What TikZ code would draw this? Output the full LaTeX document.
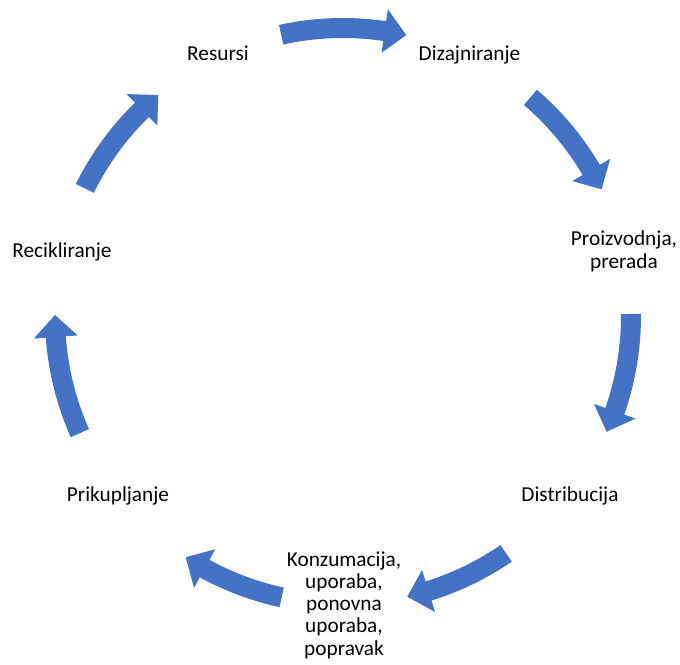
\documentclass[tikz,border=0pt]{standalone}
\usepackage{fontspec}
\setmainfont{Carlito}
\definecolor{arrowblue}{HTML}{4472C4}
\tikzset{
  cyclearrow/.style={fill=arrowblue},
  steplabel/.style={font=\fontsize{21.3}{22.2}\selectfont, inner sep=0pt, align=center, anchor=base}
}
% tail angle, tip angle (clockwise)
\newcommand\mycyclearrow[2]{%
  \pgfmathsetmacro\myah{#2+4.38}%
  \fill[cyclearrow] (#1:298pt) arc[start angle=#1, end angle=\myah, radius=298pt]
    -- (\myah:310pt) -- (#2:288pt) -- (\myah:266pt) -- (\myah:278pt)
    arc[start angle=\myah, end angle=#1, radius=278pt] -- cycle;}
\begin{document}
\begin{tikzpicture}[x=1pt,y=1pt]
\useasboundingbox (-343,-348) rectangle (337,316);
\node[steplabel] (res) at (-125,255) {Resursi};
\node[steplabel] (diz) at (126.5,255) {Dizajniranje};
\node[steplabel] (pro) at (281,48) {Proizvodnja,\\prerada};
\node[steplabel] (dis) at (227,-185) {Distribucija};
\node[steplabel] (kon) at (1,-339) {Konzumacija,\\uporaba,\\ponovna\\uporaba,\\popravak};
\node[steplabel] (pri) at (-225,-185) {Prikupljanje};
\node[steplabel] (rec) at (-281,58) {Recikliranje};
\mycyclearrow{102.4}{77.3}
\mycyclearrow{49.4}{26.1}
\mycyclearrow{0.4}{-23.7}
\mycyclearrow{-55.5}{-77.1}
\mycyclearrow{-102.3}{-123.1}
\mycyclearrow{-156.0}{-180.2}
\mycyclearrow{153.7}{129.9}
\end{tikzpicture}
\end{document}
